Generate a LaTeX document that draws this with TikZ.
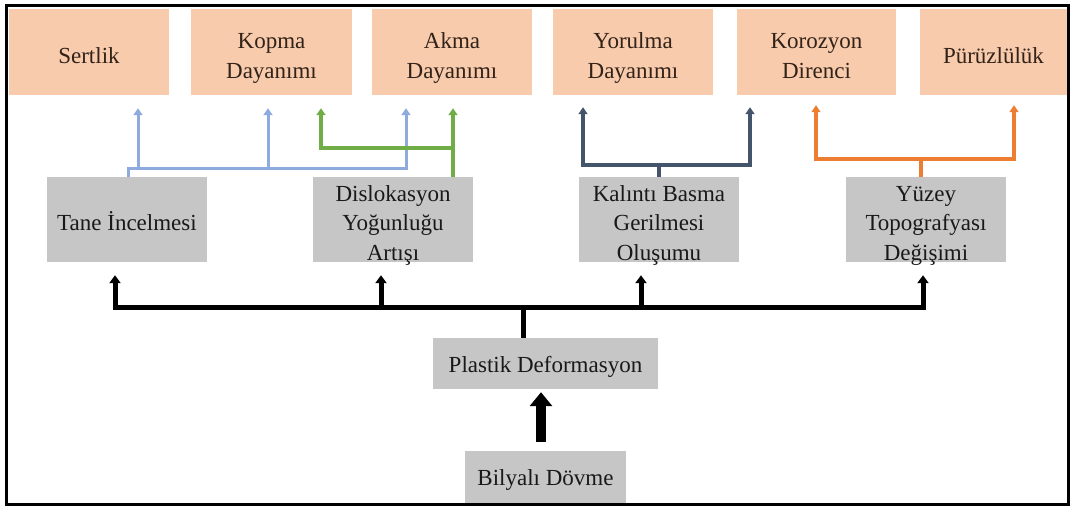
\documentclass[tikz,border=0pt]{standalone}
\usepackage{fontspec}
\setmainfont{Liberation Serif}
\usetikzlibrary{arrows.meta}
\definecolor{topfill}{RGB}{248,203,173}
\definecolor{midfill}{RGB}{198,198,198}
\definecolor{toptext}{RGB}{50,34,24}
\definecolor{midtext}{RGB}{25,25,25}
\definecolor{lblue}{RGB}{143,170,220}
\definecolor{lgreen}{RGB}{112,173,71}
\definecolor{dblue}{RGB}{68,84,106}
\definecolor{lorange}{RGB}{237,125,49}
\newcommand{\lowtxt}[2]{\raisebox{#1}[\dimexpr\height-4pt\relax][\dimexpr\depth-4pt\relax]{\begin{tabular}{@{}c@{}}#2\end{tabular}}}
\begin{document}
\begin{tikzpicture}[x=1pt,y=-1pt,
  txt/.style={inner sep=0pt, font=\fontsize{23}{29.5}\selectfont},
  topbox/.style={txt, fill=topfill, text=toptext, minimum width=160pt, minimum height=86pt},
  midbox/.style={txt, fill=midfill, text=midtext, minimum width=160pt, minimum height=85pt},
  tip/.style={-{Triangle[width=9pt,length=7pt]}},
  tips/.style={{Triangle[width=9pt,length=7pt]}-{Triangle[width=9pt,length=7pt]}},
  btip/.style={-{Triangle[width=11pt,length=8pt]}},
  btips/.style={{Triangle[width=11pt,length=8pt]}-{Triangle[width=11pt,length=8pt]}},
  lbl/.style={draw=lblue, line width=3pt},
  grn/.style={draw=lgreen, line width=4.5pt},
  dbl/.style={draw=dblue, line width=4.5pt},
  org/.style={draw=lorange, line width=4.5pt},
  blk/.style={draw=black, line width=5pt},
]
\useasboundingbox (0,0) rectangle (1071,507);
\draw[line width=2.5pt] (6.5,5.5) rectangle (1068.5,504.5);

% top row
\node[topbox] (sert) at (89,52) {\lowtxt{-5.5pt}{Sertlik}};
\node[topbox, minimum width=161pt] (kop) at (271.5,52) {\lowtxt{-5.5pt}{Kopma\\Dayanımı}};
\node[topbox] (akma) at (452,52) {\lowtxt{-5.5pt}{Akma\\Dayanımı}};
\node[topbox] (yor) at (633,52) {\lowtxt{-5.5pt}{Yorulma\\Dayanımı}};
\node[topbox, minimum width=159pt] (kor) at (816.5,52) {\lowtxt{-5.5pt}{Korozyon\\Direnci}};
\node[topbox, minimum width=147pt] (pur) at (993.5,52) {\lowtxt{-5.5pt}{Pürüzlülük}};

% middle row
\node[midbox] (tane) at (127,219.5) {\lowtxt{-5.5pt}{Tane İncelmesi}};
\node[midbox] (dis) at (393,219.5) {\lowtxt{-5.5pt}{Dislokasyon\\Yoğunluğu\\Artışı}};
\node[midbox] (kal) at (659,219.5) {\lowtxt{-5.5pt}{Kalıntı Basma\\Gerilmesi\\Oluşumu}};
\node[midbox] (yuz) at (926,219.5) {\lowtxt{-5.5pt}{Yüzey\\Topografyası\\Değişimi}};

% bottom
\node[midbox, minimum width=225pt, minimum height=51pt] (pla) at (545.5,363.5) {\lowtxt{-3pt}{Plastik Deformasyon}};
\node[midbox, minimum width=161pt, minimum height=52pt] (bil) at (545.5,477) {\lowtxt{-2.5pt}{Bilyalı Dövme}};

% light blue
\coordinate (l1) at (128,168);
\coordinate (l2) at (138,168);
\coordinate (l3) at (268,168);
\coordinate (l4) at (406,168);
\draw[lbl, tip, shorten >=13pt] (l1 |- tane.north) -- (l1) -- (l4) -- (l4 |- akma.south);
\draw[lbl, tip, shorten >=13pt] (l2) -- (l2 |- sert.south);
\draw[lbl, tip, shorten >=13pt] (l3) -- (l3 |- kop.south);

% green
\coordinate (g1) at (321,148);
\coordinate (g2) at (453,148);
\draw[grn, tip, shorten >=13pt] (g2 |- dis.north) -- (g2 |- akma.south);
\draw[grn, tip, shorten >=13pt] (g2) -- (g1) -- (g1 |- kop.south);

% dark blue
\coordinate (d1) at (583,165);
\coordinate (d2) at (750,165);
\coordinate (dm) at (659,165);
\draw[dbl, tips, shorten >=12pt, shorten <=12pt] (d1 |- yor.south) -- (d1) -- (d2) -- (d2 |- kor.south);
\draw[dbl] (dm |- kal.north) -- (dm);

% orange
\coordinate (o1) at (816,159);
\coordinate (o2) at (1014,159);
\coordinate (om) at (921,159);
\draw[org, tips, shorten >=10pt, shorten <=10pt] (o1 |- kor.south) -- (o1) -- (o2) -- (o2 |- pur.south);
\draw[org] (om |- yuz.north) -- (om);

% black bus
\coordinate (b1) at (115,307);
\coordinate (b2) at (381,307);
\coordinate (b3) at (641,307);
\coordinate (b4) at (923,307);
\coordinate (b0) at (523,307);
\draw[blk, btips, shorten >=13pt, shorten <=13pt] (b1 |- tane.south) -- (b1) -- (b4) -- (b4 |- yuz.south);
\draw[blk, btip, shorten >=13pt] (b2) -- (b2 |- dis.south);
\draw[blk, btip, shorten >=13pt] (b3) -- (b3 |- kal.south);
\draw[blk] (b0) -- (b0 |- pla.north);

% big arrow
\coordinate (ba) at (541,420);
\draw[line width=10pt, -{Triangle[width=22pt,length=14pt]}, shorten <=9pt, shorten >=3pt] (ba |- bil.north) -- (ba |- pla.south);
\end{tikzpicture}
\end{document}
